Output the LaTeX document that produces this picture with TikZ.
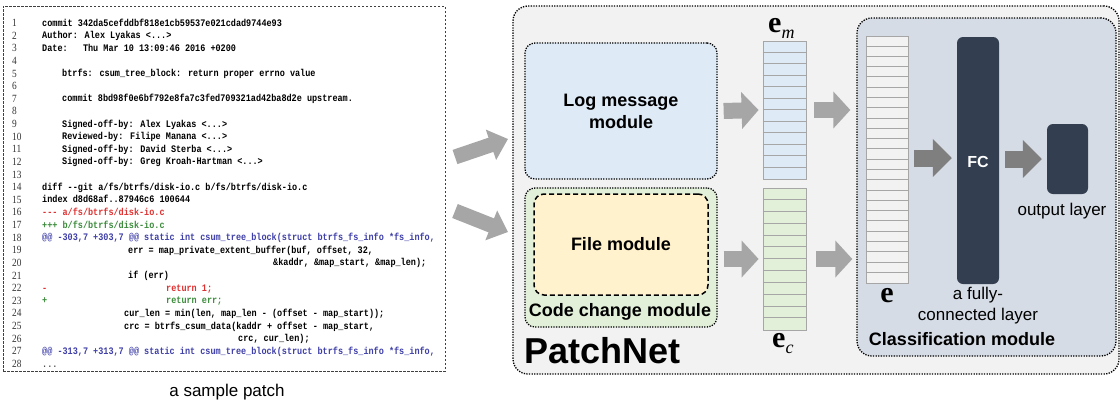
\documentclass[tikz,border=0pt]{standalone}
\usepackage{fontspec}
\setmainfont{Liberation Serif}
\setsansfont{Liberation Sans}
\newfontfamily\codefam{Liberation Mono}[FakeStretch=0.85]
\newfontfamily\numfam{Liberation Serif}[FakeStretch=0.85]
\usetikzlibrary{arrows.meta}
\definecolor{lblue}{HTML}{DEEBF7}
\definecolor{lgreen}{HTML}{E2F0D9}
\definecolor{lyellow}{HTML}{FFF2CC}
\definecolor{clsblue}{HTML}{D6DCE5}
\definecolor{outergray}{HTML}{F2F2F2}
\definecolor{vecgray}{HTML}{F2F2F2}
\definecolor{fcdark}{HTML}{333F50}
\definecolor{arrlight}{HTML}{A6A6A6}
\definecolor{arrdark}{HTML}{7F7F7F}
\definecolor{cellgray}{HTML}{A6A6A6}
\definecolor{dred}{HTML}{E03131}
\definecolor{dgreen}{HTML}{3C8C3C}
\definecolor{dblue}{HTML}{3F3FA8}
\newcommand\codesz{\codefam\bfseries\fontsize{10}{12}\selectfont}
\newcommand\numsz{\numfam\fontsize{11}{12}\selectfont}
\newcommand\labsz{\sffamily\fontsize{17}{21}\selectfont}
\newcommand\blabsz{\sffamily\bfseries\fontsize{18}{22}\selectfont}
\newcommand\pnsz{\sffamily\bfseries\fontsize{36}{40}\selectfont}
\newcommand\esz{\fontsize{30}{34}\selectfont}
\newcommand\vsub[1]{\raisebox{-0.2em}{\fontsize{18}{18}\selectfont\itshape #1}}
\newcommand\codeln[5][black]{\node[code,text=#1] (#2) at (#4,{26+(#3-1)*12.63}) {#5};}
\tikzset{
  code/.style={font=\codesz, anchor=base west, inner sep=0pt},
  lnum/.style={font=\numsz, anchor=base west, inner sep=0pt, text=black!80},
  lab/.style={font=\labsz, align=center, inner sep=0pt},
  blab/.style={font=\blabsz, align=center, inner sep=0pt},
  dotbox/.style={draw=black, line width=1.3pt, dash pattern=on 1.3pt off 1.3pt, inner sep=0pt},
  vecbox/.style={draw=cellgray, line width=0.8pt, inner sep=0pt, minimum width=43pt},
  cell/.style={draw=cellgray, line width=0.7pt},
  garrow/.style={draw=arrlight, line width=16pt, -{Triangle[length=17pt,width=36pt]}},
  darrow/.style={draw=arrdark, line width=17pt, -{Triangle[length=19pt,width=37pt]}},
  diagarrow/.style={draw=arrlight, line width=15pt, -{Triangle[length=18pt,width=31pt]}},
  vlab/.style={font=\esz, inner sep=0pt},
}
\begin{document}
\begin{tikzpicture}[x=1pt,y=-1pt]
\useasboundingbox (0,0) rectangle (1120,400);
% ---------- sample patch panel ----------
\node[draw=black!75, line width=0.8pt, dash pattern=on 2.5pt off 1.5pt, minimum width=442pt, minimum height=365pt, inner sep=0pt] (patch) at (224,188.5) {};
\foreach \i in {1,...,28} \node[lnum] (n\i) at (12,{26.5+(\i-1)*12.63}) {\i};
\codeln{l1}{1}{42}{commit 342da5cefddbf818e1cb59537e021cdad9744e93}
\codeln{l2}{2}{42}{Author: Alex Lyakas <...>}
\codeln{l3}{3}{42}{Date:\ \ \ Thu Mar 10 13:09:46 2016 +0200}
\codeln{l5}{5}{62}{btrfs: csum\_tree\_block: return proper errno value}
\codeln{l7}{7}{62}{commit 8bd98f0e6bf792e8fa7c3fed709321ad42ba8d2e upstream.}
\codeln{l9}{9}{62}{Signed-off-by: Alex Lyakas <...>}
\codeln{l10}{10}{62}{Reviewed-by: Filipe Manana <...>}
\codeln{l11}{11}{62}{Signed-off-by: David Sterba <...>}
\codeln{l12}{12}{62}{Signed-off-by: Greg Kroah-Hartman <...>}
\codeln{l14}{14}{42}{diff -{}-git a/fs/btrfs/disk-io.c b/fs/btrfs/disk-io.c}
\codeln{l15}{15}{42}{index d8d68af..87946c6 100644}
\codeln[dred]{l16}{16}{42}{-{}-{}- a/fs/btrfs/disk-io.c}
\codeln[dgreen]{l17}{17}{42}{+++ b/fs/btrfs/disk-io.c}
\codeln[dblue]{l18}{18}{42}{@@ -303,7 +303,7 @@ static int csum\_tree\_block(struct btrfs\_fs\_info *fs\_info,}
\codeln{l19}{19}{128}{err = map\_private\_extent\_buffer(buf, offset, 32,}
\codeln{l20}{20}{273}{\&kaddr, \&map\_start, \&map\_len);}
\codeln{l21}{21}{128}{if (err)}
\codeln[dred]{l22a}{22}{42}{-}
\codeln[dred]{l22b}{22}{166}{return 1;}
\codeln[dgreen]{l23a}{23}{42}{+}
\codeln[dgreen]{l23b}{23}{166}{return err;}
\codeln{l24}{24}{124}{cur\_len = min(len, map\_len - (offset - map\_start));}
\codeln{l25}{25}{124}{crc = btrfs\_csum\_data(kaddr + offset - map\_start,}
\codeln{l26}{26}{238}{crc, cur\_len);}
\codeln[dblue]{l27}{27}{42}{@@ -313,7 +313,7 @@ static int csum\_tree\_block(struct btrfs\_fs\_info *fs\_info,}
\codeln[black!70]{l28}{28}{42}{...}
\node[lab, anchor=base] (cap) at (227,396) {a sample patch};
% ---------- PatchNet ----------
\node[dotbox, fill=outergray, rounded corners=15pt, minimum width=606pt, minimum height=368pt] (pn) at (816,190) {};
\node[dotbox, fill=lblue, rounded corners=10pt, minimum width=192pt, minimum height=136pt, font=\blabsz, align=center] (log) at (621,111) {Log message\\module};
\node[dotbox, fill=lgreen, rounded corners=10pt, minimum width=192pt, minimum height=139pt] (ccm) at (621,257.5) {};
\node[draw=black, line width=1.5pt, dash pattern=on 5pt off 3pt, fill=lyellow, rounded corners=10pt, minimum width=174pt, minimum height=101pt, inner sep=0pt, font=\blabsz] (file) at (621,244.5) {File module};
\node[blab, anchor=base] (ccmlab) at (620,316) {Code change module};
\node[font=\pnsz, anchor=base west, inner sep=0pt] (pnlab) at (524,363) {PatchNet};
% vectors
\node[vecbox, fill=lblue, minimum height=138pt] (em) at (784.5,110) {};
\foreach \i in {1,...,11} \draw[cell] ([yshift=-\i*11.5pt]em.north west) -- ([yshift=-\i*11.5pt]em.north east);
\node[vecbox, fill=lgreen, minimum height=142pt] (ec) at (784.5,259) {};
\foreach \i in {1,...,11} \draw[cell] ([yshift=-\i*11.833pt]ec.north west) -- ([yshift=-\i*11.833pt]ec.north east);
\node[vlab, anchor=base west] (emlab) at (768,32) {\textbf{e}\vsub{m}};
\node[vlab, anchor=base west] (eclab) at (772,347) {\textbf{e}\vsub{c}};
% classification module
\node[dotbox, fill=clsblue, rounded corners=15pt, minimum width=259pt, minimum height=338pt] (cls) at (986.5,187) {};
\node[vecbox, fill=vecgray, minimum width=42pt, minimum height=247pt] (ev) at (887,159.5) {};
\foreach \i in {1,...,23} \draw[cell] ([yshift=-\i*10.29pt]ev.north west) -- ([yshift=-\i*10.29pt]ev.north east);
\node[vlab, anchor=base] (elab) at (887,302) {\textbf{e}};
\node[fill=fcdark, rounded corners=6pt, minimum width=42pt, minimum height=247pt, inner sep=0pt] (fc) at (978,160.5) {};
\node[text=white, font=\sffamily\bfseries\fontsize{16}{19}\selectfont, inner sep=0pt] (fclab) at (978,162) {FC};
\node[fill=fcdark, rounded corners=6pt, minimum width=41pt, minimum height=70pt, inner sep=0pt] (out) at (1067.5,159) {};
\node[lab, anchor=base] (outlab) at (1062,215) {output layer};
\node[lab] (fclab2) at (978,306) {a fully-\\connected layer};
\node[blab, anchor=base] (clslab) at (962,345) {Classification module};
% ---------- arrows ----------
\coordinate (a1s) at (455,157);
\coordinate (a1e) at (508,139);
\coordinate (a2s) at (455,211);
\coordinate (a2e) at (508,232);
\draw[diagarrow] (a1s) -- (a1e);
\draw[diagarrow] (a2s) -- (a2e);
\draw[garrow] ([xshift=6pt]log.east) -- ([xshift=-4pt]em.west);
\draw[garrow] ([xshift=6pt]ccm.east |- ec.west) -- ([xshift=-4pt]ec.west);
\draw[garrow] ([xshift=8pt]em.east) -- ([xshift=-6pt]cls.west |- em.east);
\draw[garrow] ([xshift=10pt]ec.east) -- ([xshift=-4pt]cls.west |- ec.east);
\draw[darrow] ([xshift=6pt]ev.east |- 0,158) -- ([xshift=-5pt]fc.west |- 0,158);
\draw[darrow] ([xshift=6pt]fc.east |- out.west) -- ([xshift=-5pt]out.west);
\end{tikzpicture}
\end{document}
